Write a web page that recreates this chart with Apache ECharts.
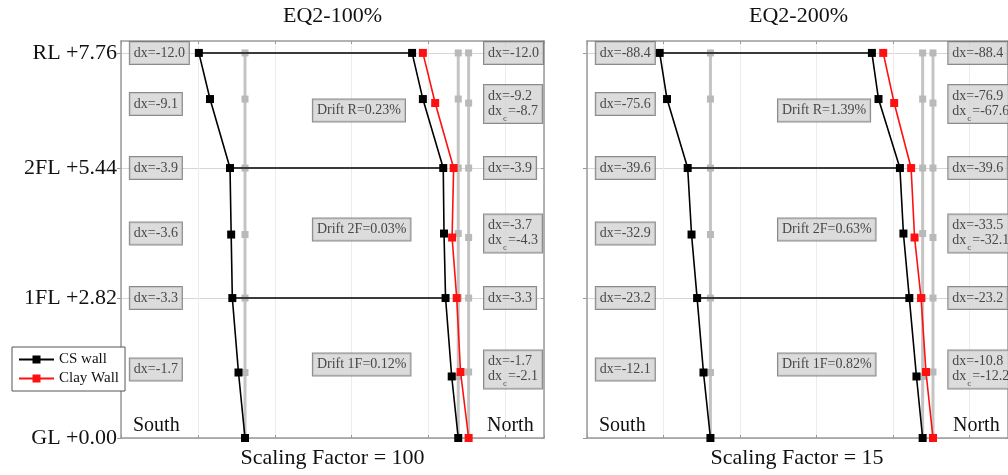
<!DOCTYPE html>
<html><head><meta charset="utf-8">
<script src="https://cdn.jsdelivr.net/npm/echarts@6/dist/echarts.min.js"></script>
<style>html,body{margin:0;padding:0;background:#fff}#c{width:1008px;height:475px}</style>
</head><body><div id="c"></div>
<script>
// ---- data ----
const levelTicks = [0, 2.82, 5.44, 7.76];
const levelNames = ['GL +0.00', '1FL +2.82', '2FL +5.44', 'RL +7.76'];
// point heights (m), bottom -> top: GL, mid1F, 1FL, mid2F, 2FL, midR, RL
const southH = [0, 1.32, 2.82, 4.10, 5.44, 6.83, 7.76];
const northH = [0, 1.24, 2.82, 4.12, 5.44, 6.83, 7.76];
const clayH  = [0, 1.33, 2.82, 4.04, 5.44, 6.75, 7.76];
// undeformed wall positions (m)
const southBase = 1.225, northBase = 6.77, clayBase = 7.04;
// displacements (mm)
const south100 = [0, -1.7, -3.3, -3.6, -3.9, -9.1, -12.0];
const north100 = [0, -1.7, -3.3, -3.7, -3.9, -9.2, -12.0];
const clay100  = [0, -2.1, -3.1, -4.3, -3.9, -8.7, -11.9];
const south200 = [0, -12.1, -23.2, -32.9, -39.6, -75.6, -88.4];
const north200 = [0, -10.8, -23.2, -33.5, -39.6, -76.9, -88.4];
const clay200  = [0, -12.2, -20.8, -32.1, -38.1, -67.6, -86.7];
const drift100 = ['0.12%', '0.03%', '0.23%'];
const drift200 = ['0.82%', '0.63%', '1.39%'];
const driftNames = ['1F', '2F', 'R'];
const titles = ['EQ2-100%', 'EQ2-200%'];
const factors = [100, 15];
// label heights
const labelH = [0, 1.38, 2.82, 4.12, 5.44, 6.73, 7.76];
const driftH = [1.48, 4.20, 6.60];

const FONT = '"Liberation Serif","Times New Roman",serif';
const LEFT_X = -1.77, RIGHT_X = 7.44, DRIFT_X = 2.99;
const floorIdx = [2, 4, 6], midIdx = [1, 3, 5];

const panels = [
  {south: south100, north: north100, clay: clay100, drift: drift100, left: 121},
  {south: south200, north: north200, clay: clay200, drift: drift200, left: 587}
];
const GW = 423, GT = 41, GH = 397;

function deform(base, dx, scale, hs) {
  return hs.map((h, i) => [base + dx[i] * scale / 1000, h]);
}

const grids = [], xAxes = [], yAxes = [], series = [], graphics = [];
const axisColor = '#9a9a9a';
panels.forEach((p, gi) => {
  const scale = factors[gi];
  grids.push({left: p.left, top: GT, width: GW, height: GH, containLabel: false});
  const xBase = {gridIndex: gi, type: 'value', min: -2, max: 9, interval: 2,
    axisLabel: {show: false},
    axisLine: {onZero: false, lineStyle: {color: axisColor, width: 1.5}},
    axisTick: {inside: true, length: 3, lineStyle: {color: axisColor}}};
  xAxes.push(Object.assign({}, xBase, {position: 'bottom', splitLine: {show: true, lineStyle: {color: '#ececec', width: 1}}}));
  xAxes.push(Object.assign({}, xBase, {position: 'top', splitLine: {show: false}}));
  yAxes.push({gridIndex: gi, type: 'value', min: 0, max: 8, position: 'left',
    axisLine: {onZero: false, lineStyle: {color: axisColor, width: 1.5}},
    axisTick: {customValues: levelTicks, inside: false, length: 4, lineStyle: {color: axisColor}},
    axisLabel: gi === 0 ? {customValues: levelTicks, margin: 4, fontFamily: FONT, fontSize: 22, color: '#111',
      formatter: v => levelNames[levelTicks.indexOf(v)] || ''} : {show: false},
    splitLine: {show: true, lineStyle: {color: '#d6d6d6', width: 1}}});
  yAxes.push({gridIndex: gi, type: 'value', min: 0, max: 8, position: 'right',
    axisLine: {onZero: false, lineStyle: {color: axisColor, width: 1.5}},
    axisTick: {customValues: levelTicks, inside: true, length: 3, lineStyle: {color: axisColor}},
    axisLabel: {show: false}, splitLine: {show: false}});
  const xi = gi * 2, yi = gi * 2;
  // gray reference lines
  [[southBase, southH], [northBase, northH], [clayBase, clayH]].forEach(([b, hs]) => {
    series.push({type: 'line', xAxisIndex: xi, yAxisIndex: yi, silent: true, z: 2,
      data: hs.map(h => [b, h]), symbol: 'rect', symbolSize: 7,
      lineStyle: {color: '#c4c4c4', width: 3}, itemStyle: {color: '#b9b9b9'}});
  });
  const sD = deform(southBase, p.south, scale, southH);
  const nD = deform(northBase, p.north, scale, northH);
  const cD = deform(clayBase, p.clay, scale, clayH);
  // slabs
  floorIdx.forEach(i => {
    series.push({type: 'line', xAxisIndex: xi, yAxisIndex: yi, silent: true, z: 3, symbol: 'none',
      data: [sD[i], nD[i]], lineStyle: {color: '#3a3a3a', width: 2}});
  });
  series.push({name: 'CS wall', type: 'line', xAxisIndex: xi, yAxisIndex: yi, z: 5, data: sD,
    symbol: 'rect', symbolSize: 8, lineStyle: {color: '#000', width: 1.6}, itemStyle: {color: '#000'}});
  series.push({name: 'CS wall', type: 'line', xAxisIndex: xi, yAxisIndex: yi, z: 5, data: nD,
    symbol: 'rect', symbolSize: 8, lineStyle: {color: '#000', width: 1.6}, itemStyle: {color: '#000'}});
  series.push({name: 'Clay Wall', type: 'line', xAxisIndex: xi, yAxisIndex: yi, z: 6, data: cD,
    symbol: 'rect', symbolSize: 8, lineStyle: {color: '#ff1010', width: 1.6}, itemStyle: {color: '#ff1010'}});
  // labels
  const lab = [];
  for (let i = 1; i < 7; i++) lab.push({value: [LEFT_X, labelH[i]], txt: '{m|dx=' + p.south[i].toFixed(1) + '}'});
  floorIdx.forEach(i => lab.push({value: [RIGHT_X, labelH[i]], txt: '{m|dx=' + p.north[i].toFixed(1) + '}'}));
  midIdx.forEach(i => lab.push({value: [RIGHT_X, labelH[i]],
    txt: '{m|dx=' + p.north[i].toFixed(1) + '}\n{t|dx}{s|c}{t|=' + p.clay[i].toFixed(1) + '}'}));
  driftNames.forEach((n, k) => lab.push({value: [DRIFT_X, driftH[k]], txt: '{m|Drift ' + n + '=' + p.drift[k] + '}'}));
  series.push({type: 'scatter', xAxisIndex: xi, yAxisIndex: yi, silent: true, z: 10, symbolSize: 0,
    data: lab.map(d => ({value: d.value, txt: d.txt})),
    label: {show: true, position: 'right', distance: 0,
      formatter: q => q.data.txt,
      backgroundColor: '#d3d3d3', borderColor: '#6e6e6e', borderWidth: 1, padding: [3, 4, 3, 4],
      rich: {
        m: {fontFamily: FONT, fontSize: 14, lineHeight: 16, color: '#222'},
        t: {fontFamily: FONT, fontSize: 14, lineHeight: 16, color: '#222', verticalAlign: 'top'},
        s: {fontFamily: FONT, fontSize: 9, lineHeight: 9, color: '#222', verticalAlign: 'top', padding: [10, 1, 0, 1]}
      }}});
  const cx = p.left + GW / 2;
  const txt = (x, y, text, size, align) => ({type: 'text', x: x, y: y, z: 20, silent: true,
    style: {text: text, fontFamily: FONT, fontSize: size, fill: '#111',
      align: align, verticalAlign: 'middle', textAlign: align, textVerticalAlign: 'middle'}});
  graphics.push(txt(Math.min(cx, 799), 16, titles[gi], 22, 'center'));
  graphics.push(txt(Math.min(cx, 797), 458, 'Scaling Factor = ' + factors[gi], 22, 'center'));
  graphics.push(txt(p.left + 12, 426, 'South', 20, 'left'));
  graphics.push(txt(p.left + 366, 426, 'North', 20, 'left'));
});

const chart = echarts.init(document.getElementById('c'), null, {renderer: 'canvas'});
chart.setOption({
  animation: false,
  backgroundColor: '#fff',
  grid: grids, xAxis: xAxes, yAxis: yAxes, series: series,
  graphic: graphics,
  legend: {data: ['CS wall', 'Clay Wall'], orient: 'vertical', left: 12, top: 347, z: 30,
    selectedMode: false, backgroundColor: '#fff', borderColor: '#555', borderWidth: 1,
    padding: [5, 6, 5, 6], itemWidth: 35, itemHeight: 10, itemGap: 4,
    textStyle: {fontFamily: FONT, fontSize: 15, color: '#111'}}
});
</script></body></html>
